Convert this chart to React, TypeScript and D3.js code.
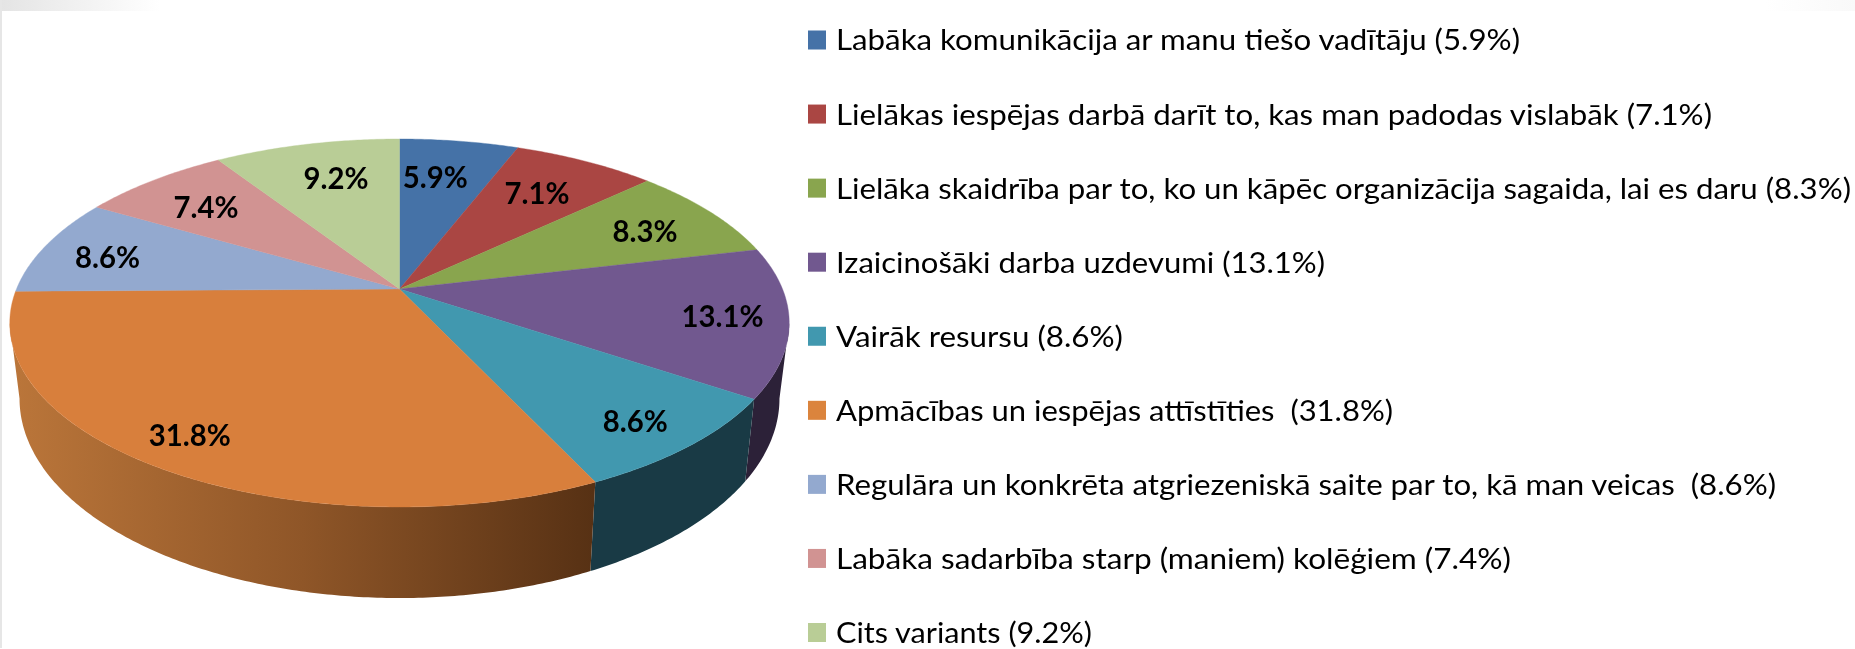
import React from "react";
import * as d3 from "d3";

const labels = [
  "Labāka komunikācija ar manu tiešo vadītāju (5.9%)",
  "Lielākas iespējas darbā darīt to, kas man padodas vislabāk (7.1%)",
  "Lielāka skaidrība par to, ko un kāpēc organizācija sagaida, lai es daru (8.3%)",
  "Izaicinošāki darba uzdevumi (13.1%)",
  "Vairāk resursu (8.6%)",
  "Apmācības un iespējas attīstīties  (31.8%)",
  "Regulāra un konkrēta atgriezeniskā saite par to, kā man veicas  (8.6%)",
  "Labāka sadarbība starp (maniem) kolēģiem (7.4%)",
  "Cits variants (9.2%)",
];
const values = [5.9, 7.1, 8.3, 13.1, 8.6, 31.8, 8.6, 7.4, 9.2];
const colors = ["#4572a7", "#aa4643", "#89a54e", "#71588f", "#4198af", "#d87f3c", "#93a9cf", "#d19392", "#b9cd96"];
const legendColors = ["#4572a7", "#aa4643", "#89a54e", "#71588f", "#4198af", "#db843d", "#93a9cf", "#d19392", "#b9cd96"];
const sideColors = ["#233955", "#552321", "#445327", "#2c2138", "#193a45", "url(#orangeSide)", "#4a5568", "#684a49", "#5c664b"];

// nudges of each value label from its slice's mid-angle anchor
const labelNudge: [number, number][] = [[-8, -3.5], [2, -3], [23, -2.5], [53, 5], [42, 28], [-50, 28], [-41, -1], [-15, -3], [4.5, -5]];
const legendWidths = [684, 876, 1015, 489, 287, 557, 940, 675, 256];

// Perspective projection of the pie's unit disc on to the screen
const CX = 399.5, CY = 289, K = 0.1848, AY = 177.7, BX = 383;
const project = (theta: number, r = 1): [number, number] => {
  const u = r * Math.sin(theta), v = r * Math.cos(theta), w = 1 + K * v;
  return [CX + (BX * u) / w, CY - (AY * v) / w];
};
const lower = ([x, y]: [number, number]): [number, number] => [CX + (x - CX) * 0.975, 481 + 1.084 * (y - 399)];

// angles at which the rim is at its widest: only the wall between them can be seen
const wallStart = Math.acos(-K);
const wallEnd = 2 * Math.PI - wallStart;

const line = d3.line<[number, number]>();
const arcPoints = (a0: number, a1: number) => {
  const n = Math.max(2, Math.ceil((a1 - a0) / 0.01));
  return d3.range(n + 1).map((i) => project(a0 + ((a1 - a0) * i) / n));
};

const legendX = d3.scaleLinear().domain([0, 1]).range([808, 836]);
const legendY = d3.scaleLinear().domain([0, labels.length - 1]).range([40, 632.5]);

export default function App() {
  const arcs = d3.pie<number>().sort(null)(values);
  React.useEffect(() => {
    document.body.style.margin = "0";
    document.body.style.background = "#fff";
  }, []);
  return (
    <svg width={1855} height={649} style={{ position: "fixed", left: 0, top: 0, display: "block" }}>
      <defs>
        <linearGradient id="orangeSide" gradientUnits="userSpaceOnUse" x1={10} x2={594} y1={0} y2={0}>
          <stop offset="0" stopColor="#bb763a" />
          <stop offset="0.5" stopColor="#8f5628" />
          <stop offset="1" stopColor="#573114" />
        </linearGradient>
        <linearGradient id="topEdge" x1="0" x2="1" y1="0" y2="0">
          <stop offset="0" stopColor="#e4e4e4" />
          <stop offset="1" stopColor="#ffffff" />
        </linearGradient>
        <linearGradient id="topEdgeRight" x1="0" x2="1" y1="0" y2="0">
          <stop offset="0" stopColor="#ffffff" />
          <stop offset="1" stopColor="#f9f9f9" />
        </linearGradient>
        <filter id="soft" x="-5%" y="-30%" width="110%" height="160%">
          <feGaussianBlur stdDeviation="0.5" />
        </filter>
      </defs>
      <rect width={1855} height={649} fill="#fff" />
      <rect width={160} height={11} fill="url(#topEdge)" />
      <rect x={1765} width={90} height={11} fill="url(#topEdgeRight)" />
      <rect width={2} height={648} fill="#e6e6e6" />

      {arcs.map((a, i) => {
        const a0 = Math.max(a.startAngle, wallStart), a1 = Math.min(a.endAngle, wallEnd);
        if (a1 <= a0) return null;
        const top = arcPoints(a0, a1);
        const bot = top.map(lower).reverse();
        return <path key={i} d={line([...top, ...bot]) + "Z"} fill={sideColors[i]} />;
      })}
      {arcs.map((a, i) => (
        <path
          key={i}
          d={line([[CX, CY], ...arcPoints(a.startAngle, a.endAngle)]) + "Z"}
          fill={colors[i]}
          stroke={colors[i]}
          strokeWidth={0.4}
        />
      ))}
      <g filter="url(#soft)" fontFamily="Lato" fontWeight={700} fontSize={30} fill="#000" textAnchor="middle">
        {arcs.map((a, i) => {
          const [x, y] = project((a.startAngle + a.endAngle) / 2, 0.7);
          return (
            <text key={i} x={x + labelNudge[i][0]} y={y + labelNudge[i][1]} dy="0.36em" textLength={values[i] >= 10 ? 82 : 65} lengthAdjust="spacingAndGlyphs">
              {values[i].toFixed(1)}%
            </text>
          );
        })}
      </g>
      <g>
        {labels.map((l, i) => (
          <g key={i}>
            <rect x={legendX(0)} y={legendY(i) - 9.5} width={18} height={19} fill={legendColors[i]} />
            <text
              x={legendX(1)}
              y={legendY(i)}
              dy="0.36em"
              fontFamily="Lato"
              fontSize={29}
              fill="#000"
              filter="url(#soft)"
              xmlSpace="preserve"
              textLength={legendWidths[i]}
              lengthAdjust="spacingAndGlyphs"
            >
              {l}
            </text>
          </g>
        ))}
      </g>
    </svg>
  );
}
